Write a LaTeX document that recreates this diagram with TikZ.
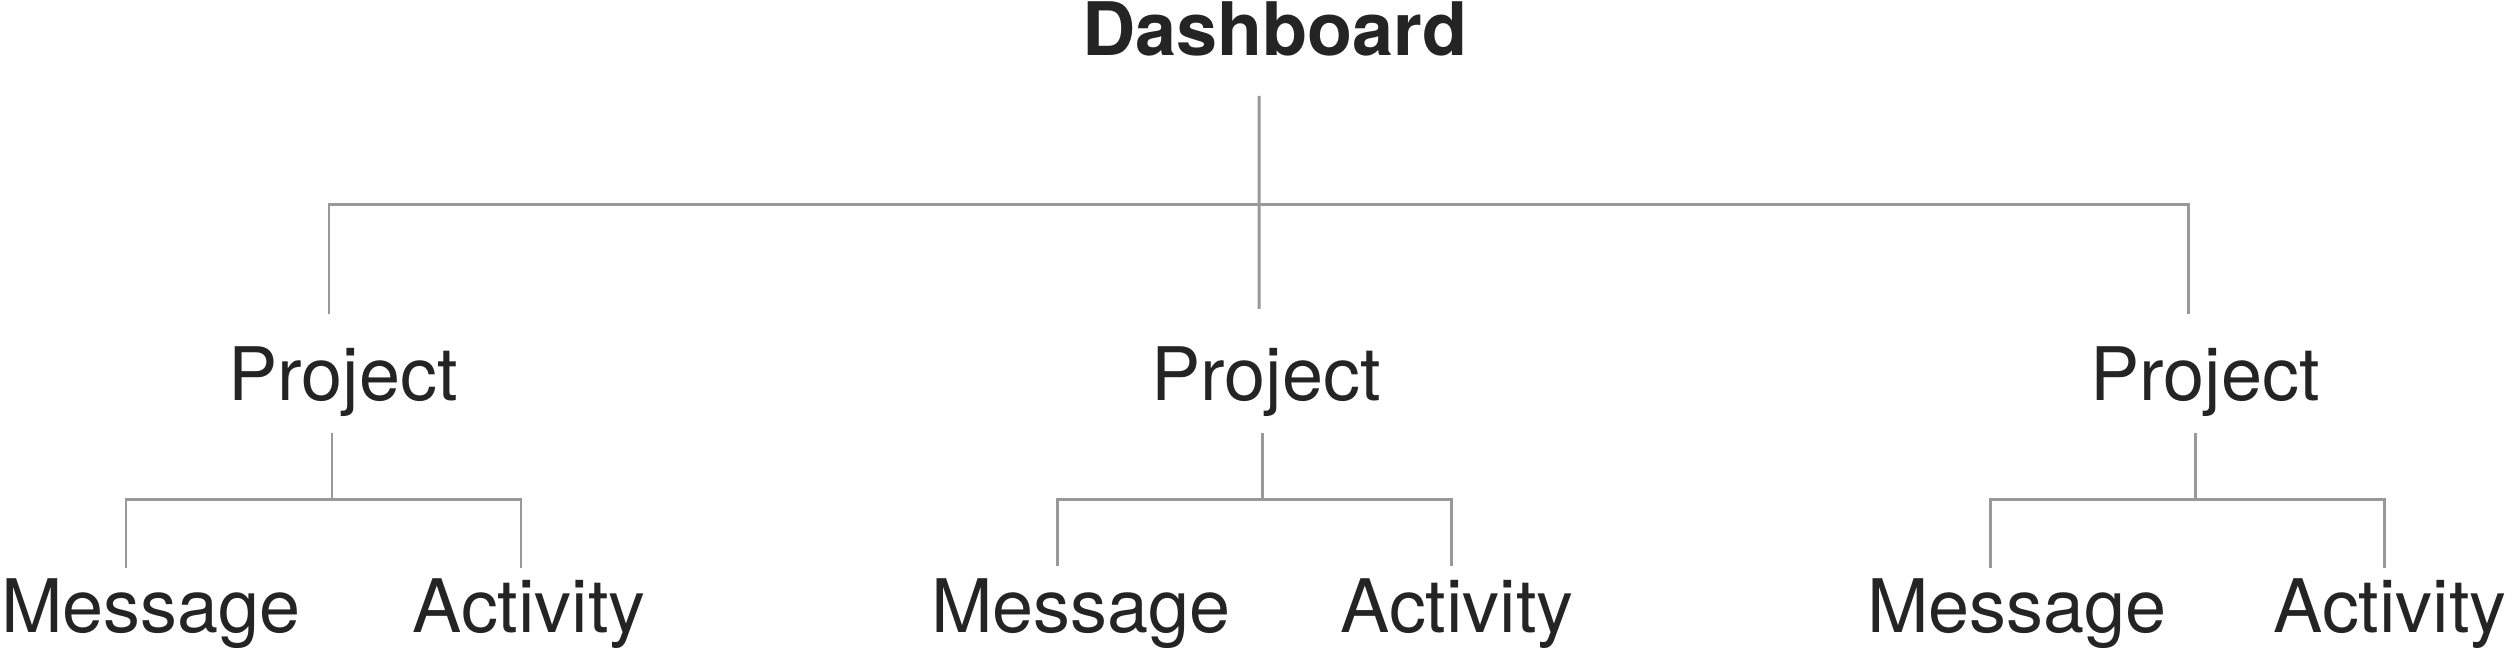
\documentclass[tikz,border=0pt]{standalone}
\usepackage{fontspec}
\setmainfont{TeX Gyre Heros}
\definecolor{linegray}{RGB}{153,153,153}
\definecolor{textdark}{RGB}{36,36,36}
\begin{document}
\begin{tikzpicture}[
            title/.style={font=\bfseries\fontsize{21}{24}\selectfont, text=textdark, anchor=base, inner sep=0pt},
            item/.style={font=\fontsize{21}{24}\selectfont, text=textdark, anchor=base, inner sep=0pt},
            link/.style={draw=linegray, line width=0.85pt},
        ]
            \useasboundingbox (0,0) rectangle (25.14,6.48);
            \node[title](dash) at (12.75,5.92) {Dashboard};
            \node[item](proj1) at (3.43,2.47) {Project};
            \node[item](proj2) at (12.66,2.47) {Project};
            \node[item](proj3) at (22.05,2.47) {Project};
            \node[item](msg1) at (1.51,0.155) {Message};
            \node[item](act1) at (5.29,0.155) {Activity};
            \node[item](msg2) at (10.81,0.155) {Message};
            \node[item](act2) at (14.57,0.155) {Activity};
            \node[item](msg3) at (20.17,0.155) {Message};
            \node[item](act3) at (23.90,0.155) {Activity};
            \coordinate (hub) at ([xshift=-0.16cm,yshift=-1.49cm]dash.base);
            \draw[link] ([xshift=-0.16cm,yshift=-0.40cm]dash.base) -- ([xshift=-0.07cm,yshift=0.92cm]proj2.base);
            \draw[link] ([xshift=-0.14cm,yshift=0.87cm]proj1.base) |- (hub) -| ([xshift=-0.17cm,yshift=0.87cm]proj3.base);
            \draw[link] ([xshift=-0.11cm,yshift=-0.32cm]proj1.base) -- ++(0,-0.67) coordinate (fork1);
            \draw[link] ([xshift=-0.25cm,yshift=0.645cm]msg1.base) |- (fork1) -| ([xshift=-0.08cm,yshift=0.645cm]act1.base);
            \draw[link] ([xshift=-0.04cm,yshift=-0.32cm]proj2.base) -- ++(0,-0.67) coordinate (fork2);
            \draw[link] ([xshift=-0.24cm,yshift=0.665cm]msg2.base) |- (fork2) -| ([xshift=-0.06cm,yshift=0.665cm]act2.base);
            \draw[link] ([xshift=-0.10cm,yshift=-0.32cm]proj3.base) -- ++(0,-0.67) coordinate (fork3);
            \draw[link] ([xshift=-0.27cm,yshift=0.645cm]msg3.base) |- (fork3) -| ([xshift=-0.06cm,yshift=0.645cm]act3.base);
        \end{tikzpicture}
\end{document}
